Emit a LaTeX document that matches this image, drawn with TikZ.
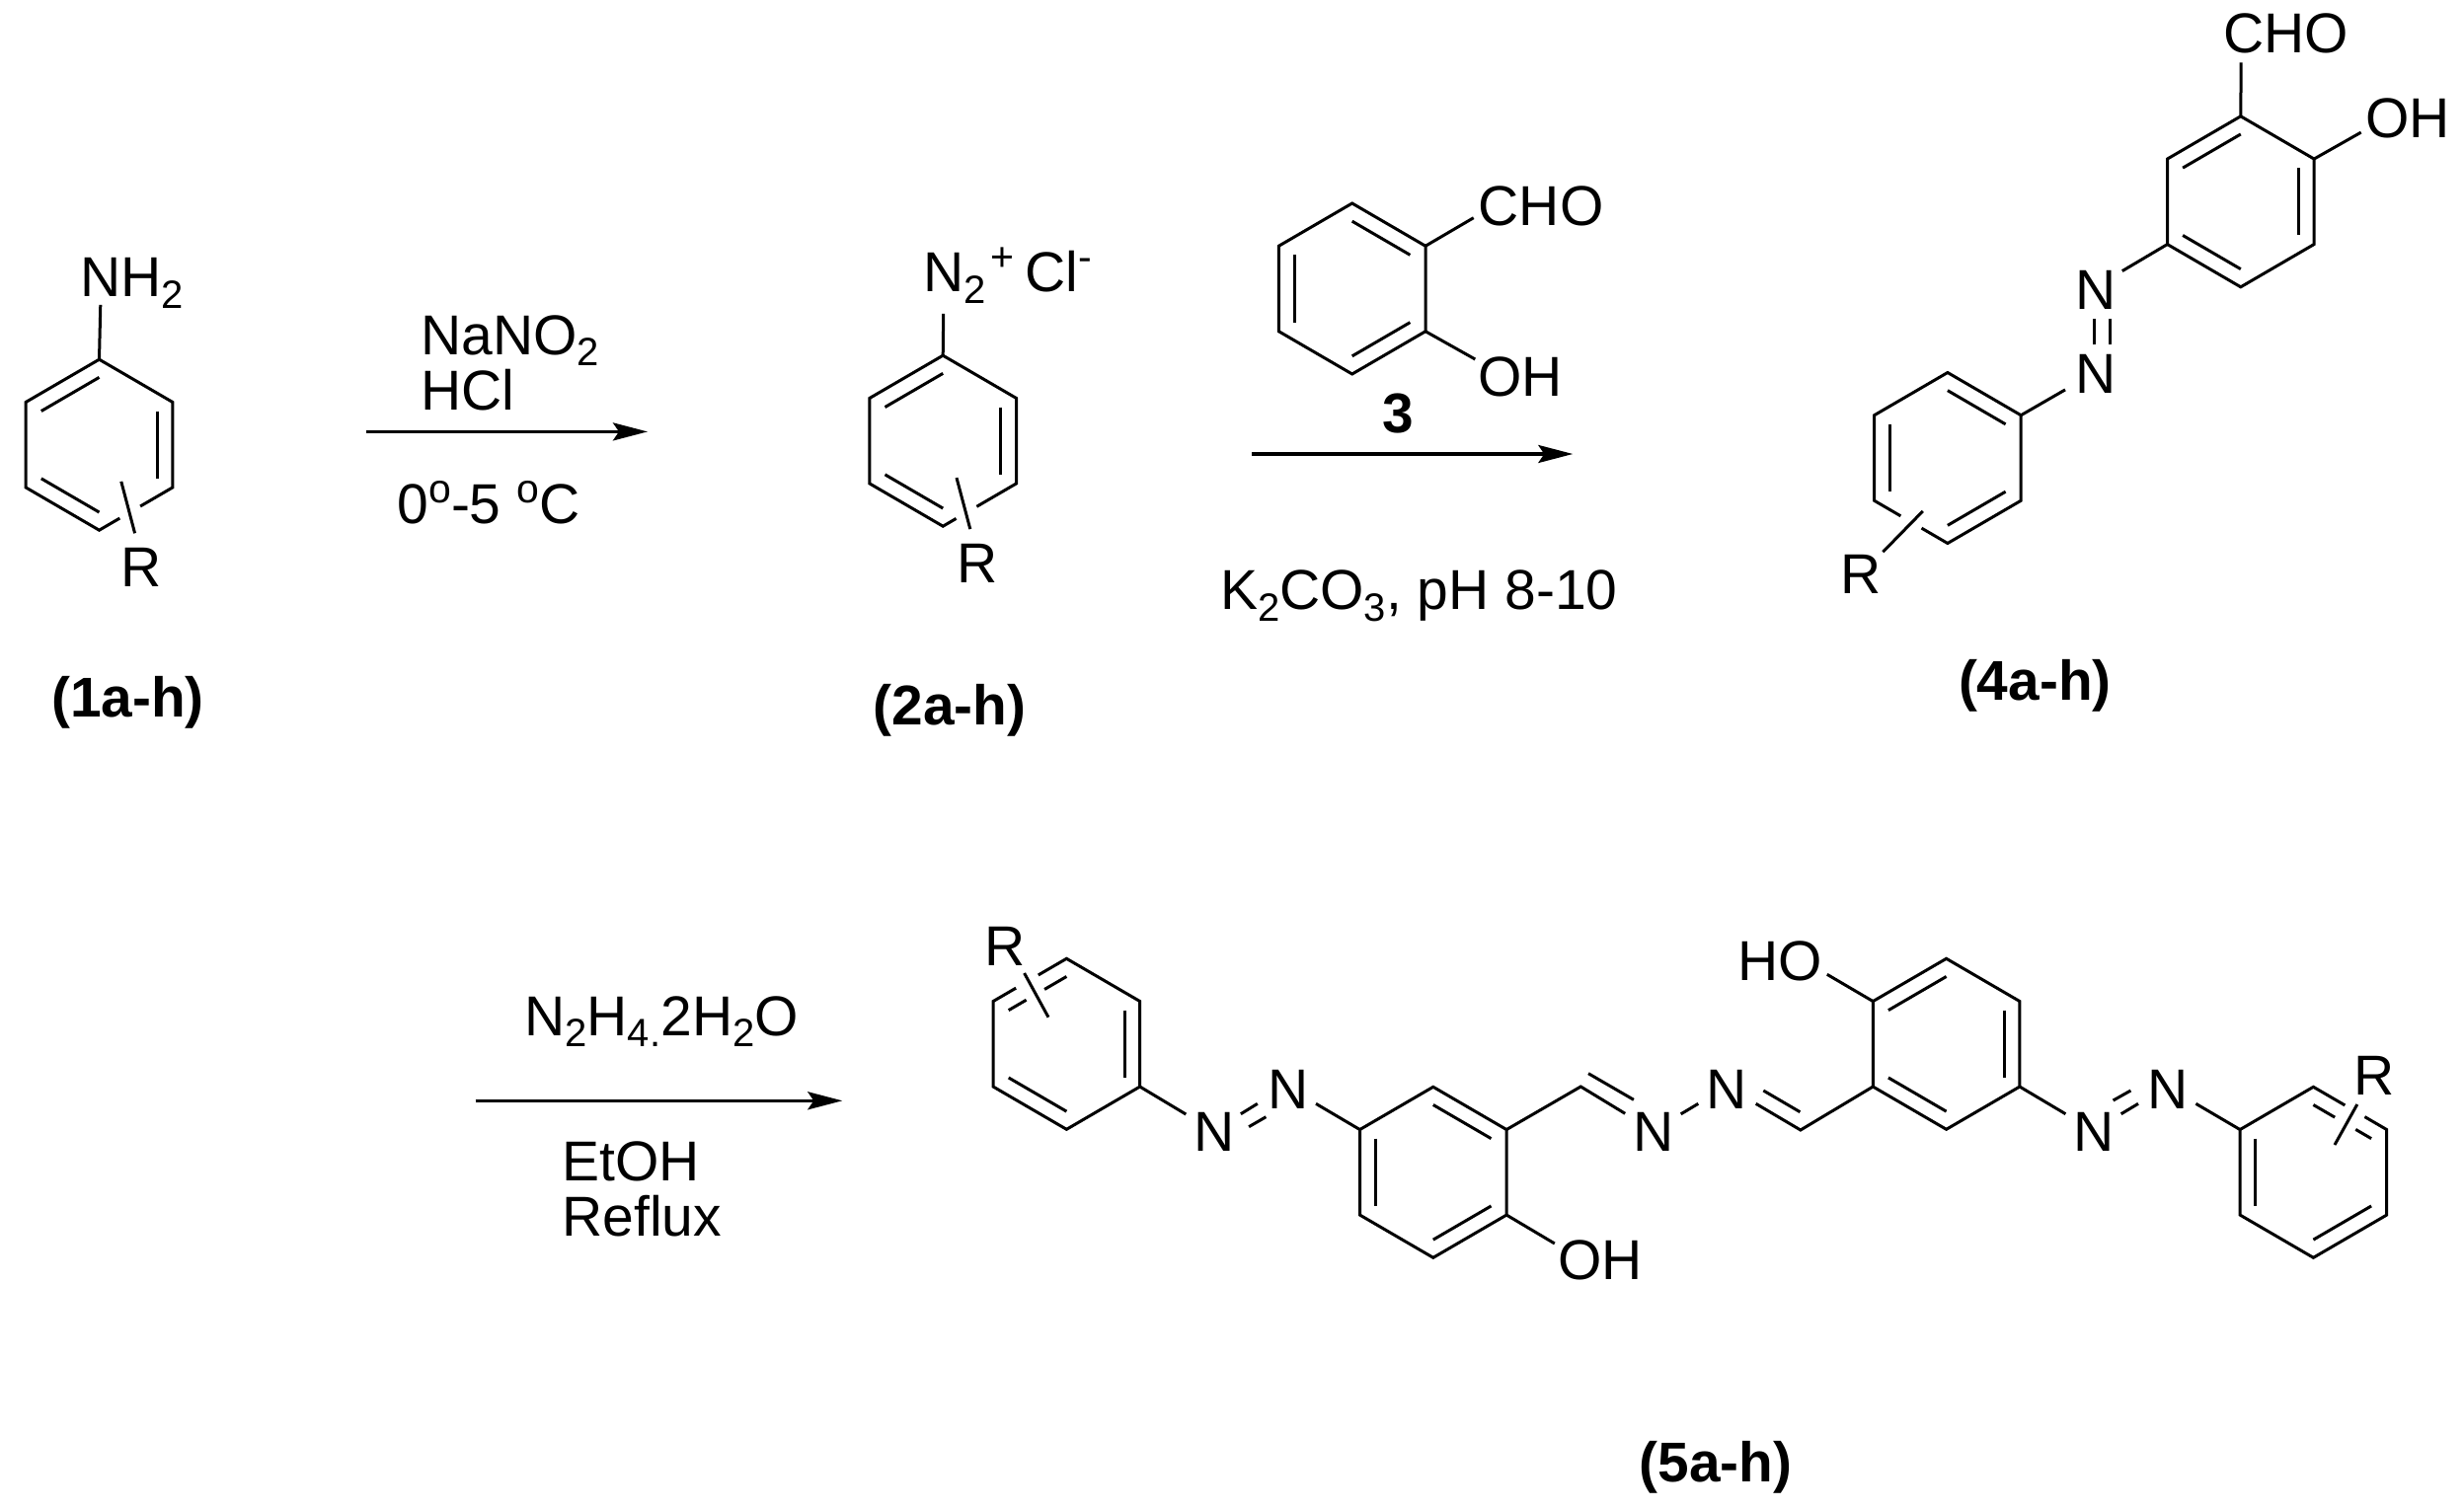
\documentclass[tikz,border=0pt]{standalone}
\usepackage{fontspec}
\setmainfont{Liberation Sans}
\usetikzlibrary{calc,arrows.meta}
\newcommand\subs[1]{\raisebox{-5.85pt}{\fontsize{20}{20}\selectfont #1}}
\newcommand\sups[1]{\raisebox{10.7pt}{\fontsize{20.5}{20}\selectfont #1}}
% hexagon: named centre c, vertices 1 top, then clockwise
\newcommand\hexring[3]{%
  \coordinate (#1c) at (#2,#3);
  \coordinate (#11) at (#2,#3-86.5);
  \coordinate (#12) at (#2+74.3,#3-43.25);
  \coordinate (#13) at (#2+74.3,#3+43.25);
  \coordinate (#14) at (#2,#3+86.5);
  \coordinate (#15) at (#2-74.3,#3+43.25);
  \coordinate (#16) at (#2-74.3,#3-43.25);}
\newcommand\innerb[3]{\draw[bond] ($(#1#2)!0.21!(#1c)$) -- ($(#1#3)!0.21!(#1c)$);}
\newcommand\fullring[1]{\draw[bond] (#11)--(#12)--(#13)--(#14)--(#15)--(#16)--cycle;}
\tikzset{
  bond/.style={line width=1.5pt,line cap=butt,line join=miter},
  rxn/.style={line width=1.7pt,-{Stealth[length=17.5pt,width=9pt,inset=3pt]}},
  lbl/.style={anchor=base west,inner sep=0pt,outer sep=0pt,font=\fontsize{28.5}{30}\selectfont},
  blbl/.style={lbl,font=\fontsize{28.4}{30}\selectfont\bfseries},
}
\begin{document}
\begin{tikzpicture}[x=0.5pt,y=-0.5pt]
\useasboundingbox (0,0) rectangle (2496,1530);
% ---------- compound 1
\hexring{a}{100.5}{450.7}
\coordinate (ab) at (101.8,308.8);
\coordinate (as) at (122.8,487.9); \coordinate (ae) at (136.6,540.3);
\draw[bond] ($(a3)!0.44!(a4)$) -- (a3) -- (a2) -- (a1) -- (a6) -- (a5) -- (a4) -- ($(a4)!0.28!(a3)$);
\innerb{a}{6}{1}\innerb{a}{2}{3}\innerb{a}{5}{4}
\draw[bond] (a1) -- (ab);
\draw[bond] (as) -- (ae);
\node[lbl] (nhtwo) at (81.4,300.9) {NH\subs{2}};
\node[lbl] (ra) at (122.5,594.6) {R};
\node[blbl] (la) at (52.3,726.2) {(1a-h)};
% ---------- arrow 1
\coordinate (p1s) at (370.7,437.4); \coordinate (p1e) at (656,437.4);
\draw[rxn] (p1s) -- (p1e);
\node[lbl] (nano) at (426.4,359.3) {NaNO\subs{2}};
\node[lbl] (hcl) at (426.5,415.7) {HCl};
\node[lbl] (temp) at (402.5,530.7) {0\sups{o}-5 \sups{o}C};
% ---------- compound 2
\hexring{b}{955.2}{446.7}
\coordinate (bb) at (955.7,317.8);
\coordinate (bs) at (969,484.1); \coordinate (be) at (982.8,536.1);
\draw[bond] ($(b3)!0.54!(b4)$) -- (b3) -- (b2) -- (b1) -- (b6) -- (b5) -- (b4) -- ($(b4)!0.18!(b3)$);
\innerb{b}{6}{1}\innerb{b}{2}{3}\innerb{b}{5}{4}
\draw[bond] (b1) -- (bb);
\draw[bond] (bs) -- (be);
\node[lbl] (ntwo) at (935.6,295.9) {N\subs{2}\kern2.2pt\sups{+}\kern5.5pt Cl\sups{-}};
\node[lbl] (rb) at (969.5,590.9) {R};
\node[blbl] (lb) at (884.8,734.4) {(2a-h)};
% ---------- compound 3
\hexring{c}{1369.7}{292.5}
\fullring{c}
\innerb{c}{1}{2}\innerb{c}{6}{5}\innerb{c}{4}{3}
\coordinate (cb) at (1492.7,220.7); \coordinate (co) at (1494.3,364);
\draw[bond] (c2) -- (cb);
\draw[bond] (c3) -- (co);
\node[lbl] (cho) at (1497.7,228.3) {CHO};
\node[lbl] (oh) at (1497,401.7) {OH};
\node[blbl] (three) at (1400.3,438.3) {3};
% ---------- arrow 2
\coordinate (p2s) at (1268.3,460); \coordinate (p2e) at (1593.3,460);
\draw[rxn] (p2s) -- (p2e);
\node[lbl] (kco) at (1236.2,617.3) {K\subs{2}CO\subs{3}, pH 8-10};
% ---------- compound 4
\hexring{d}{2269.8}{204.3}
\hexring{e}{1972.9}{464}
\fullring{d}
\innerb{d}{6}{1}\innerb{d}{2}{3}\innerb{d}{5}{4}
\coordinate (db) at (2270.2,63.4); \coordinate (do) at (2391.7,134.1);
\coordinate (dn) at (2149.8,274.6); \coordinate (en) at (2092,394.9);
\draw[bond] (d1) -- (db);
\draw[bond] (d2) -- (do);
\draw[bond] (d5) -- (dn);
\draw[bond] (e2) -- (en);
\coordinate (na) at (2121.3,322.8); \coordinate (nb) at (2121.3,349);
\coordinate (nc) at (2137.3,322.8); \coordinate (nd) at (2137.3,349);
\draw[bond] (na) -- (nb);
\draw[bond] (nc) -- (nd);
\draw[bond] ($(e5)!0.36!(e4)$) -- (e5) -- (e6) -- (e1) -- (e2) -- (e3) -- (e4) -- ($(e4)!0.355!(e5)$);
\innerb{e}{1}{2}\innerb{e}{6}{5}\innerb{e}{4}{3}
\coordinate (es) at (1947.8,517.9); \coordinate (ee) at (1907.4,559.2);
\draw[bond] (es) -- (ee);
\node[lbl] (chod) at (2252,53.7) {CHO};
\node[lbl] (ohd) at (2396,140) {OH};
\node[lbl] (nup) at (2102,313.1) {N};
\node[lbl] (nlo) at (2102,398.5) {N};
\node[lbl] (re) at (1864.3,601.5) {R};
\node[blbl] (ld) at (1984,709.5) {(4a-h)};
% ---------- arrow 3
\coordinate (p3s) at (481.7,1115.3); \coordinate (p3e) at (853.3,1115.3);
\draw[rxn] (p3s) -- (p3e);
\node[lbl] (hyd) at (531.4,1049) {N\subs{2}H\subs{4.}2H\subs{2}O};
\node[lbl] (etoh) at (569.5,1196) {EtOH};
\node[lbl] (refl) at (569.5,1252.7) {Reflux};
% ---------- compound 5
\hexring{f}{1080.4}{1057.8}
\hexring{g}{1451.8}{1187.8}
\hexring{h}{1971.6}{1057.8}
\hexring{i}{2343.4}{1187.8}
% ring f, substituted edge 6-1
\draw[bond] ($(f6)!0.31!(f1)$) -- (f6) -- (f5) -- (f4) -- (f3) -- (f2) -- (f1) -- ($(f1)!0.385!(f6)$);
\coordinate (fia) at ($(f6)!0.21!(fc)$); \coordinate (fib) at ($(f1)!0.21!(fc)$);
\draw[bond] (fia) -- ($(fia)!0.305!(fib)$);
\draw[bond] ($(fia)!0.62!(fib)$) -- (fib);
\innerb{f}{2}{3}\innerb{f}{5}{4}
\coordinate (fs) at (1037.6,986); \coordinate (fe) at (1062,1030.7);
\draw[bond] (fs) -- (fe);
\node[lbl] (rf) at (997.3,978.2) {R};
% azo left
\coordinate (fn) at (1201.3,1129);
\draw[bond] (f3) -- (fn);
\node[lbl] (nf) at (1209.3,1166.7) {N};
\coordinate (a1a) at (1256.9,1128.7); \coordinate (a1b) at (1273.8,1118.3);
\coordinate (a2a) at (1265.1,1141.7); \coordinate (a2b) at (1282.4,1131.7);
\draw[bond] (a1a) -- (a1b);
\draw[bond] (a2a) -- (a2b);
\node[lbl] (ng) at (1284.8,1123.3) {N};
\coordinate (gn) at (1333,1118.3);
\draw[bond] (gn) -- (g6);
% ring g
\fullring{g}
\innerb{g}{1}{2}\innerb{g}{6}{5}\innerb{g}{4}{3}
\coordinate (go) at (1574.8,1260);
\draw[bond] (g3) -- (go);
\node[lbl] (ohg) at (1578,1296) {OH};
% hydrazone
\coordinate (ch1) at (1601.3,1101);
\coordinate (n3) at (1646.2,1128.3);
\coordinate (ci1) at (1609,1087.7); \coordinate (ci2) at (1654.9,1114.3);
\draw[bond] (g2) -- (ch1) -- (n3);
\draw[bond] (ci1) -- (ci2);
\node[lbl] (nthree) at (1654.7,1166.7) {N};
\coordinate (nna) at (1702.7,1128.8); \coordinate (nnb) at (1720.3,1118.3);
\draw[bond] (nna) -- (nnb);
\node[lbl] (nfour) at (1728.7,1123.3) {N};
\coordinate (n4) at (1778.7,1118.3);
\coordinate (ch2) at (1823.9,1145);
\coordinate (cj1) at (1786.3,1105); \coordinate (cj2) at (1823.4,1126.7);
\draw[bond] (n4) -- (ch2) -- (h5);
\draw[bond] (cj1) -- (cj2);
% ring h
\fullring{h}
\innerb{h}{6}{1}\innerb{h}{2}{3}\innerb{h}{5}{4}
\coordinate (ho) at (1850.8,987.3);
\draw[bond] (h6) -- (ho);
\node[lbl] (hoh) at (1760.5,993.3) {HO};
% azo right
\coordinate (hn) at (2092.4,1128.7);
\draw[bond] (h3) -- (hn);
\node[lbl] (nh) at (2100.3,1166.7) {N};
\coordinate (b1a) at (2140.6,1115); \coordinate (b1b) at (2158.4,1105);
\coordinate (b2a) at (2148.7,1128.7); \coordinate (b2b) at (2166,1118.3);
\draw[bond] (b1a) -- (b1b);
\draw[bond] (b2a) -- (b2b);
\node[lbl] (ni) at (2175.4,1123.3) {N};
\coordinate (in) at (2224.4,1118.3);
\draw[bond] (in) -- (i6);
% ring i, substituted edge 1-2
\draw[bond] ($(i1)!0.43!(i2)$) -- (i1) -- (i6) -- (i5) -- (i4) -- (i3) -- (i2) -- ($(i2)!0.30!(i1)$);
\coordinate (iia) at ($(i1)!0.21!(ic)$); \coordinate (iib) at ($(i2)!0.21!(ic)$);
\draw[bond] (iia) -- ($(iia)!0.37!(iib)$);
\draw[bond] ($(iia)!0.73!(iib)$) -- (iib);
\innerb{i}{6}{5}\innerb{i}{4}{3}
\coordinate (is) at (2387.8,1119); \coordinate (ie) at (2365,1160);
\draw[bond] (is) -- (ie);
\node[lbl] (ri) at (2384.3,1109.8) {R};
\node[blbl] (lf) at (1660.5,1501) {(5a-h)};
\end{tikzpicture}
\end{document}
